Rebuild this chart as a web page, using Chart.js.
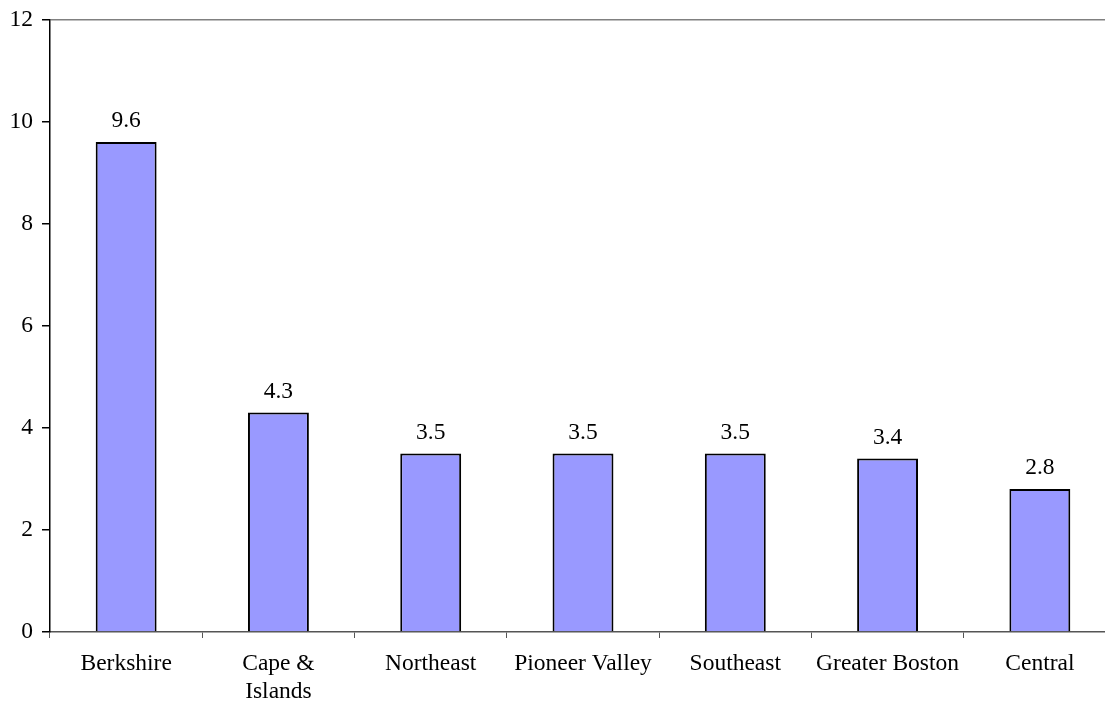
<!DOCTYPE html>
<html>
<head>
<meta charset="utf-8">
<script src="https://cdn.jsdelivr.net/npm/chart.js@4/dist/chart.umd.min.js"></script>
<style>
  body { margin: 0; background: #fff; }
  #clip { width: 1105px; height: 702px; overflow: hidden; position: relative; }
  #wrap { width: 1116px; height: 702px; position: relative; }
</style>
</head>
<body>
<div id="clip"><div id="wrap"><canvas id="myChart"></canvas></div></div>
<script>
const regions = ["Berkshire", ["Cape &", "Islands"], "Northeast", "Pioneer Valley", "Southeast", "Greater Boston", "Central"];
const rates = [9.6, 4.3, 3.5, 3.5, 3.5, 3.4, 2.8];
const yMax = 12;
const yStep = 2;

const fontFamily = "'Liberation Serif', 'Times New Roman', serif";
const fontSize = 23.5;

// value labels above each bar
const barLabels = {
    id: 'barLabels',
    afterDatasetsDraw(chart) {
        const ctx = chart.ctx;
        const meta = chart.getDatasetMeta(0);
        ctx.save();
        ctx.font = fontSize + "px " + fontFamily;
        ctx.fillStyle = '#000';
        ctx.textAlign = 'center';
        ctx.textBaseline = 'middle';
        meta.data.forEach((bar, i) => {
            ctx.fillText(rates[i].toFixed(1), bar.x, bar.y - 21);
        });
        ctx.restore();
    }
};

const config = {
    type: 'bar',
    data: {
        labels: regions,
        datasets: [{
            data: rates,
            backgroundColor: '#9999FF',
            borderColor: '#000',
            borderWidth: 2,
            barPercentage: 0.4,
            categoryPercentage: 1.0
        }]
    },
    options: {
        responsive: true,
        maintainAspectRatio: false,
        animation: false,
        layout: { padding: { top: 13, right: 0, left: 0, bottom: 0 } },
        plugins: {
            legend: { display: false },
            tooltip: { enabled: false }
        },
        scales: {
            x: {
                grid: {
                    offset: true,
                    drawOnChartArea: false,
                    tickLength: 6,
                    tickColor: '#555'
                },
                border: { color: '#555', width: 1.5 },
                ticks: {
                    color: '#000',
                    padding: 12,
                    maxRotation: 0,
                    autoSkip: false,
                    font: { family: fontFamily, size: fontSize, lineHeight: 1.2 }
                },
                afterFit(scale) { scale.height = 70; }
            },
            y: {
                min: 0,
                max: yMax,
                ticks: {
                    stepSize: yStep,
                    color: '#000',
                    padding: 9,
                    font: { family: fontFamily, size: fontSize, lineHeight: 0.9 }
                },
                grid: {
                    color: ctx => (ctx.tick && ctx.tick.value === yMax) ? '#808080' : 'rgba(0,0,0,0)',
                    lineWidth: 1.5,
                    tickLength: 8,
                    tickColor: '#000'
                },
                border: { color: '#000', width: 1.5 },
                afterFit(scale) { scale.width = 50; }
            }
        }
    },
    plugins: [barLabels]
};

myChart = new Chart(document.getElementById('myChart'), config);
</script>
</body>
</html>
